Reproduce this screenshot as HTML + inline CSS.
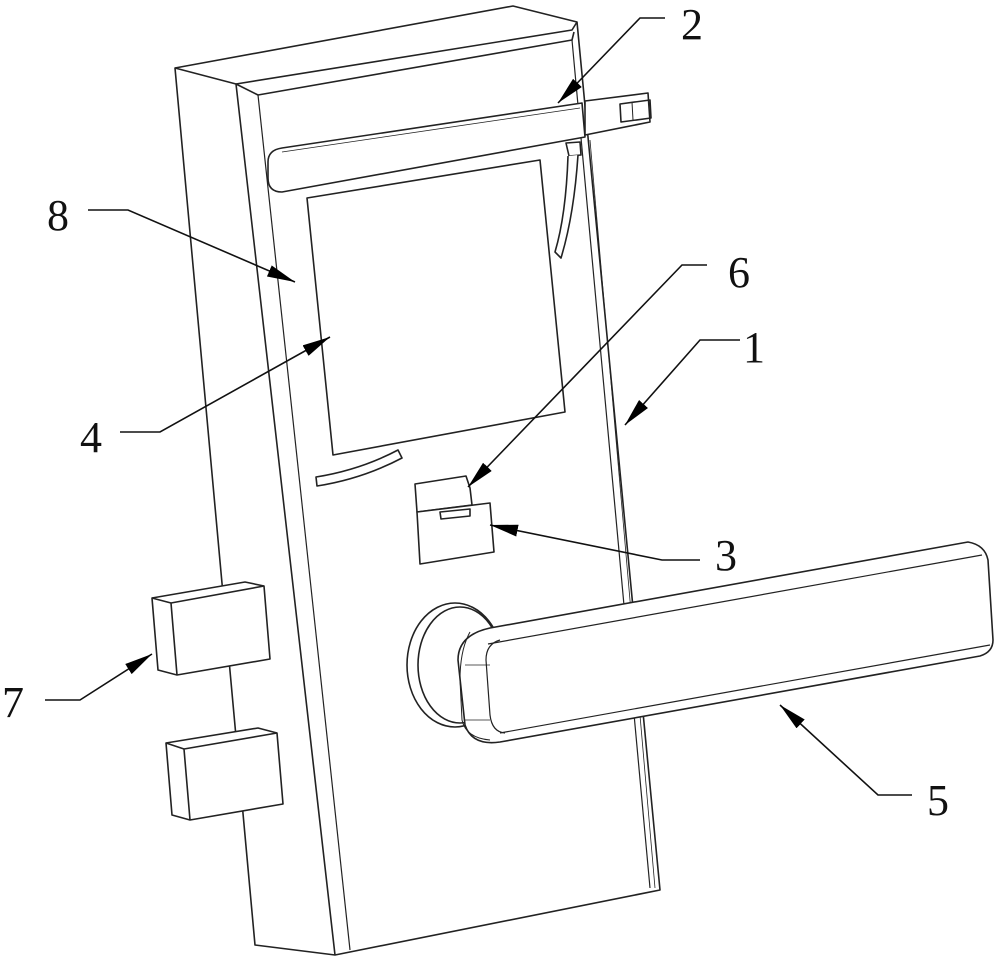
<!DOCTYPE html>
<html><head><meta charset="utf-8"><style>html,body{margin:0;padding:0;background:#fff}svg{display:block}</style></head><body>
<svg width="1000" height="964" viewBox="0 0 1000 964" xmlns="http://www.w3.org/2000/svg">
<defs><marker id="a" viewBox="0 0 10 10" refX="10" refY="5" markerWidth="28" markerHeight="12" markerUnits="userSpaceOnUse" orient="auto" preserveAspectRatio="none"><path d="M0,0L10,5L0,10z" fill="#000"/></marker></defs>
<g fill="none" stroke="#222" stroke-width="1.6" stroke-linejoin="round">
<!-- body -->
<path d="M175,68 L513,6 L577,22 L660,890 L335,955 L255,945 Z" fill="#fff"/>
<path d="M175,68 L236,84 L335,955"/>
<path d="M236,84 L572,30 L577,22"/>
<path d="M236,84 L258,95 L572,40 L574,32"/>
<path d="M258,95 L350,950" stroke-width="1.2"/>
<path d="M572,40 L650,888" stroke-width="1.2"/>
<path d="M590,140 L655,888" stroke-width="0.8"/>
<!-- top bar -->
<path d="M282,148 L582,103 L585,137 L282,192 Q268,192 268,178 L268,162 Q268,150 282,148 Z" fill="#fff"/>
<path d="M282,152 L580,108" stroke-width="0.8"/>
<path d="M585,101 L648,93 L650,122 L585,135 Z" fill="#fff"/>
<path d="M620,104 L650,100 L651,118 L621,122 Z"/>
<path d="M632,102 L633,120" stroke-width="1"/>
<path d="M566,143 L580,142 L581,155 L569,156 Z"/>
<path d="M568,156 Q566,215 555,252 L561,258 Q574,215 578,155" fill="#fff"/>
<!-- screen -->
<path d="M307,198 L540,160 L565,412 L333,455 Z" fill="#fff"/>
<!-- slot -->
<path d="M316,477 Q360,470 398,450 L402,458 Q362,479 317,486 Z"/>
<!-- module 3 -->
<path d="M415,484 L466,476 L470,488 L472,505 L417,512 Z" fill="#fff"/>
<path d="M417,512 L490,503 L494,552 L420,564 Z" fill="#fff"/>
<path d="M440,512 L470,509 L470,516 L441,519 Z"/>
<!-- bolts -->
<path d="M152,598 L245,582 L264,586 L270,659 L177,675 L158,670 Z" fill="#fff"/>
<path d="M152,598 L171,603 L264,586 M171,603 L177,675"/>
<path d="M166,743 L258,728 L277,733 L283,804 L190,820 L172,815 Z" fill="#fff"/>
<path d="M166,743 L184,749 L277,733 M184,749 L190,820"/>
<!-- rose -->
<ellipse cx="455" cy="665" rx="48" ry="62" fill="#fff"/>
<ellipse cx="460" cy="665" rx="42" ry="58"/>
<!-- handle -->
<path d="M490,628 L968,542 Q985,545 988,560 L993,640 Q993,652 980,656 L500,742 Q472,746 465,725 L458,660 Q458,635 490,628 Z" fill="#fff"/>
<path d="M488,644 L982,555" stroke-width="1.2"/>
<path d="M500,733 L990,645" stroke-width="1.2"/>
<path d="M500,640 Q486,644 486,660 L490,715 Q492,732 505,733" stroke-width="1.2"/>
<path d="M470,632 Q460,650 460,680 L462,720 Q466,738 490,740" stroke-width="1"/>
<path d="M465,665 L490,665 M465,720 L490,720" stroke-width="0.8"/>
</g>
<!-- leaders -->
<g fill="none" stroke="#111" stroke-width="1.6">
<path d="M665,18 L640,18 L558,103" marker-end="url(#a)"/>
<path d="M88,210 L128,210 L295,282" marker-end="url(#a)"/>
<path d="M707,265 L682,265 L468,487" marker-end="url(#a)"/>
<path d="M740,340 L700,340 L625,425" marker-end="url(#a)"/>
<path d="M120,432 L160,432 L330,337" marker-end="url(#a)"/>
<path d="M700,560 L662,560 L490,525" marker-end="url(#a)"/>
<path d="M45,700 L80,700 L152,654" marker-end="url(#a)"/>
<path d="M912,795 L878,795 L780,705" marker-end="url(#a)"/>
</g>
<g font-family="'Liberation Serif',serif" font-size="44" fill="#111">
<text x="681" y="39">2</text>
<text x="47" y="230">8</text>
<text x="728" y="287">6</text>
<text x="743" y="362">1</text>
<text x="80" y="452">4</text>
<text x="715" y="570">3</text>
<text x="2" y="717">7</text>
<text x="927" y="815">5</text>
</g>
</svg>
</body></html>
